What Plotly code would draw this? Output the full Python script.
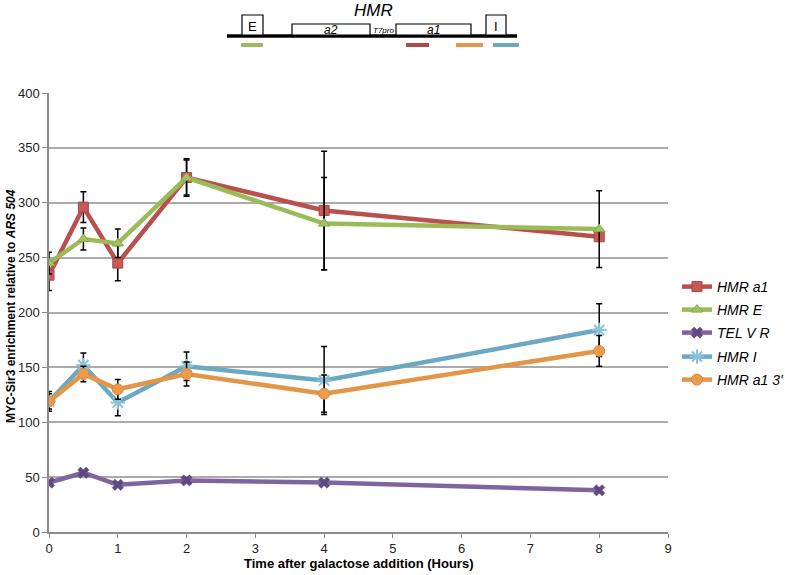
import plotly.graph_objects as go

# ---------------- data ----------------
time_h = [0, 0.5, 1, 2, 4, 8]

hmr_a1 = [234, 296, 245, 323, 293, 269]
hmr_a1_err = [14, 14, 16, 16, 54, 3]

hmr_e = [245, 267, 263, 323, 281, 276]
hmr_e_err = [10, 10, 13, 17, 42, 35]

tel_v_r = [45, 54, 43, 47, 45, 38]
tel_v_r_err = [2, 2, 2, 2, 2, 2]

hmr_i = [119, 152, 118, 151, 138, 184]
hmr_i_err = [9, 11, 12, 13, 31, 24]

hmr_a1_3 = [119, 144, 130, 144, 126, 165]
hmr_a1_3_err = [7, 7, 9, 11, 17, 14]

series_names = ["<i>HMR a1</i>", "<i>HMR E</i>", "<i>TEL V R</i>", "<i>HMR I</i>", "<i>HMR a1 3'</i>"]
x_ticks = [0, 1, 2, 3, 4, 5, 6, 7, 8, 9]
y_ticks = [0, 50, 100, 150, 200, 250, 300, 350, 400]

# ---------------- geometry ----------------
W, H = 785, 575
L, R, T, B = 49, 117, 93, 43
PW, PH = W - L - R, H - T - B

def px(sx):
    return (sx - L) / PW

def py(sy):
    return (H - B - sy) / PH

def cx(sx):
    return sx / W

def cy(sy):
    return 1 - sy / H

fig = go.Figure()

styles = [
    (hmr_a1, hmr_a1_err, "#B9504E", dict(symbol="square", size=10, color="#C65A57", line=dict(color="#A84644", width=1))),
    (hmr_e, hmr_e_err, "#9BBB59", dict(symbol="triangle-up", size=10, color="#A3C361", line=dict(color="#8AAA4A", width=1))),
    (tel_v_r, tel_v_r_err, "#7E65A0", dict(symbol="x", size=10, color="#5E4A80", line=dict(color="#5E4A80", width=0.5))),
    (hmr_i, hmr_i_err, "#6AA9C1", dict(symbol="asterisk-open", size=12, color="#8CC3D6", line=dict(color="#7FB8CC", width=2))),
    (hmr_a1_3, hmr_a1_3_err, "#E39647", dict(symbol="circle", size=11, color="#EC9A4B", line=dict(color="#D88A3E", width=1))),
]
legend_ids = ["legend", "legend2", "legend3", "legend4", "legend5"]
legend_y = [287, 310, 333, 357, 380]

for name, lid, (vals, errs, col, mk) in zip(series_names, legend_ids, styles):
    fig.add_trace(go.Scatter(
        x=time_h, y=vals, name=name, mode="lines+markers",
        line=dict(color=col, width=4.5),
        marker=mk, legend=lid,
        error_y=dict(type="data", array=errs, visible=True, color="black", thickness=1.5, width=3),
    ))

legend_layout = {}
for lid, ly in zip(legend_ids, legend_y):
    legend_layout[lid] = dict(
        xref="container", yref="container",
        x=cx(677), y=cy(ly), xanchor="left", yanchor="middle",
        font=dict(family="Liberation Sans, Arial", size=14, color="black"),
        itemwidth=30, bgcolor="rgba(0,0,0,0)", borderwidth=0,
    )

fig.update_layout(
    width=W, height=H, autosize=False,
    margin=dict(l=L, r=R, t=T, b=B, autoexpand=False),
    paper_bgcolor="white", plot_bgcolor="white",
    font=dict(family="Liberation Sans, Arial", size=12, color="#222"),
    showlegend=True,
    xaxis=dict(
        range=[0, 9], tickvals=x_ticks, ticktext=[str(v) for v in x_ticks],
        showgrid=False, showline=True, linecolor="#8c8c8c", linewidth=1.5,
        ticks="outside", ticklen=4, tickcolor="#8c8c8c",
        tickfont=dict(size=13, color="#222"),
        zeroline=False,
    ),
    yaxis=dict(
        range=[0, 400], tickvals=y_ticks,
        showgrid=True, gridcolor="#ababab", gridwidth=1.5,
        showline=True, linecolor="#8c8c8c", linewidth=1.5,
        ticks="outside", ticklen=5, tickcolor="#8c8c8c",
        tickfont=dict(size=13, color="#222"),
        zeroline=False,
    ),
    **legend_layout,
)

# axis titles
fig.add_annotation(
    text="<b>Time after galactose addition (Hours)</b>",
    xref="paper", yref="paper", x=px(358), y=py(563), xanchor="center", yanchor="middle",
    showarrow=False, font=dict(size=13, color="black"),
)
fig.add_annotation(
    text="<b>MYC-Sir3 enrichment relative to <i>ARS 504</i></b>",
    xref="paper", yref="paper", x=px(11), y=py(306), xanchor="center", yanchor="middle",
    showarrow=False, textangle=-90, font=dict(size=12, color="black"),
)

# ---------------- HMR schematic ----------------
shapes = []
def seg(x0, x1, y, color, width):
    shapes.append(dict(type="line", xref="paper", yref="paper", x0=px(x0), x1=px(x1), y0=py(y), y1=py(y),
                       line=dict(color=color, width=width)))

def box(x0, x1, y0, y1):
    shapes.append(dict(type="rect", xref="paper", yref="paper", x0=px(x0), x1=px(x1), y0=py(y1), y1=py(y0),
                       line=dict(color="black", width=1.2), fillcolor="white"))

seg(227, 517, 36, "black", 3.5)
box(242, 263, 15, 35)
box(292, 370, 24, 35)
box(396, 471, 24, 35)
box(486, 506, 15, 35)
seg(241, 263, 45, "#9BBB59", 4)
seg(406, 429, 45, "#A94A48", 4)
seg(456, 483, 45, "#E39647", 4)
seg(493, 519, 45, "#6AA9C1", 4)
fig.update_layout(shapes=shapes)

def label(txt, x, y, size, italic=False):
    fig.add_annotation(text=(f"<i>{txt}</i>" if italic else txt), xref="paper", yref="paper",
                       x=px(x), y=py(y), xanchor="center", yanchor="middle",
                       showarrow=False, font=dict(size=size, color="black"))

label("HMR", 373, 11, 17, italic=True)
label("E", 252, 26, 13)
label("a2", 331, 30, 12, italic=True)
label("T7pro", 383, 30, 8, italic=True)
label("a1", 433, 30, 12, italic=True)
label("I", 496, 26, 13)

# remove the default 8px page margin so the figure sits at the window's top-left corner
fig.write_html("out.html", config={"displayModeBar": False},
               post_script="document.body.style.margin='0px';")
